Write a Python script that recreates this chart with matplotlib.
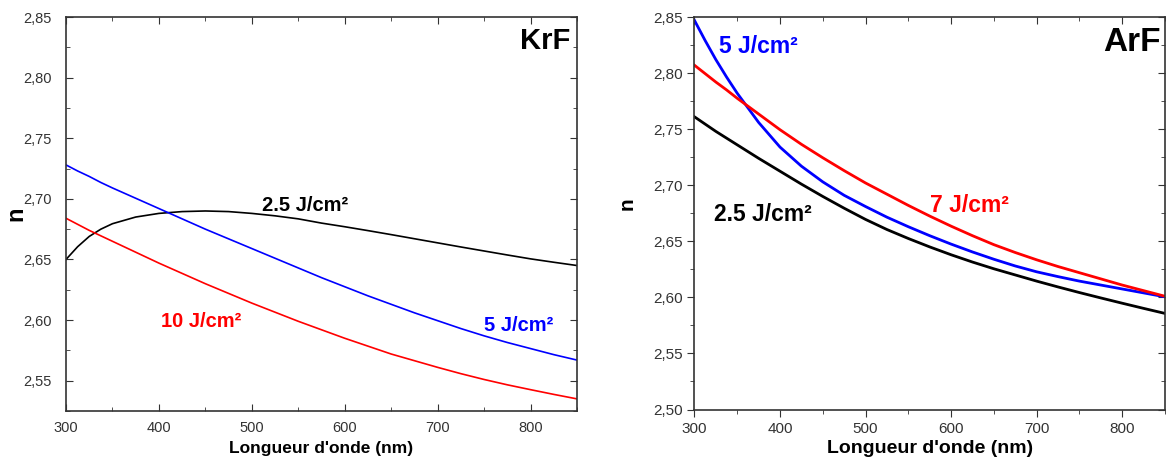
import matplotlib
matplotlib.use('Agg')
import matplotlib.pyplot as plt
from matplotlib.ticker import MultipleLocator, FuncFormatter

plt.rcParams['font.family'] = ['Liberation Sans', 'DejaVu Sans']

# longueur d'onde (nm)
wavelength = [300, 312.5, 325, 337.5, 350, 375, 400, 425, 450, 475, 500, 525, 550, 575,
              600, 625, 650, 675, 700, 725, 750, 775, 800, 825, 850]

# KrF : indice n pour chaque fluence
krf_2_5 = [2.650, 2.6605, 2.669, 2.675, 2.6795, 2.685, 2.688, 2.6895, 2.690, 2.6895, 2.688, 2.686,
           2.6835, 2.680, 2.677, 2.6738, 2.6705, 2.6671, 2.6637, 2.6603, 2.657, 2.6537, 2.6505,
           2.6477, 2.645]
krf_5 = [2.728, 2.723, 2.7185, 2.7135, 2.709, 2.7005, 2.692, 2.6835, 2.675, 2.667, 2.659, 2.651,
         2.643, 2.635, 2.6275, 2.620, 2.613, 2.606, 2.5995, 2.593, 2.587, 2.5815, 2.5765,
         2.5715, 2.567]
krf_10 = [2.684, 2.679, 2.674, 2.6695, 2.665, 2.656, 2.647, 2.6385, 2.630, 2.622, 2.614, 2.6065,
          2.599, 2.592, 2.585, 2.5785, 2.572, 2.5665, 2.561, 2.5558, 2.551, 2.5466, 2.5426,
          2.5387, 2.535]

# ArF
arf_2_5 = [2.761, 2.7545, 2.748, 2.742, 2.736, 2.724, 2.7125, 2.701, 2.690, 2.6795, 2.6695, 2.6605,
           2.6525, 2.645, 2.638, 2.6315, 2.6255, 2.620, 2.6145, 2.6093, 2.6043, 2.5995, 2.5948,
           2.5902, 2.5857]
arf_5 = [2.847, 2.829, 2.812, 2.7965, 2.782, 2.756, 2.734, 2.717, 2.703, 2.691, 2.681, 2.6715,
         2.663, 2.655, 2.6475, 2.6405, 2.634, 2.628, 2.6228, 2.6185, 2.6145, 2.611, 2.6075,
         2.604, 2.6005]
arf_7 = [2.807, 2.7995, 2.792, 2.785, 2.7775, 2.7635, 2.7495, 2.7365, 2.7245, 2.713, 2.702, 2.692,
         2.682, 2.6725, 2.6635, 2.655, 2.647, 2.640, 2.6335, 2.6275, 2.622, 2.6165, 2.611,
         2.606, 2.601]

comma = FuncFormatter(lambda v, pos: f'{v:.2f}'.replace('.', ','))
grey = '#333333'

fig = plt.figure(figsize=(11.66, 4.66), dpi=100)
ax1 = fig.add_axes([0.0566, 0.118, 0.4383, 0.8455])
ax2 = fig.add_axes([0.5956, 0.1212, 0.4035, 0.8423])

# --- KrF ---
ax1.plot(wavelength, krf_2_5, color='black', lw=1.2)
ax1.plot(wavelength, krf_5, color='#0000ff', lw=1.2)
ax1.plot(wavelength, krf_10, color='#ff0000', lw=1.2)
ax1.set_xlim(300, 850)
ax1.set_ylim(2.525, 2.85)
ax1.xaxis.set_major_locator(MultipleLocator(100))
ax1.xaxis.set_minor_locator(MultipleLocator(50))
ax1.yaxis.set_major_locator(MultipleLocator(0.05))
ax1.yaxis.set_minor_locator(MultipleLocator(0.025))
ax1.yaxis.set_major_formatter(comma)
ax1.tick_params(which='both', direction='in', top=True, right=True, color=grey,
                labelcolor=grey, labelsize=10.5)
ax1.tick_params(which='major', length=5)
ax1.tick_params(which='minor', length=3)
ax1.tick_params(axis='y', pad=10)
ax1.tick_params(axis='x', pad=7.5)
ax1.set_xlabel("Longueur d'onde (nm)", fontsize=12.5, fontweight='bold', labelpad=4)
ax1.set_ylabel('n', fontsize=17, fontweight='bold')
ax1.yaxis.set_label_coords(-0.076, 0.5)
ax1.text(789, 2.8237, 'KrF', fontsize=21, fontweight='bold')
ax1.text(511, 2.690, '2.5 J/cm²', fontsize=14.5, fontweight='bold', color='black')
ax1.text(402, 2.594, '10 J/cm²', fontsize=14.5, fontweight='bold', color='#ff0000')
ax1.text(750, 2.591, '5 J/cm²', fontsize=14.5, fontweight='bold', color='#0000ff')

# --- ArF ---
ax2.plot(wavelength, arf_2_5, color='black', lw=2.0)
ax2.plot(wavelength, arf_5, color='#0000ff', lw=2.0)
ax2.plot(wavelength, arf_7, color='#ff0000', lw=2.0)
ax2.set_xlim(300, 850)
ax2.set_ylim(2.50, 2.85)
ax2.xaxis.set_major_locator(MultipleLocator(100))
ax2.xaxis.set_minor_locator(MultipleLocator(50))
ax2.yaxis.set_major_locator(MultipleLocator(0.05))
ax2.yaxis.set_minor_locator(MultipleLocator(0.025))
ax2.yaxis.set_major_formatter(comma)
ax2.tick_params(which='both', direction='out', color=grey, labelcolor=grey, labelsize=11)
ax2.tick_params(which='both', axis='both', top=True, right=True)
ax2.tick_params(which='major', length=5)
ax2.tick_params(which='minor', length=3)
ax2.tick_params(axis='y', pad=3.5)
ax2.tick_params(axis='x', pad=4)
# ticks du haut et de droite vers l'intérieur
for t in ax2.xaxis.get_major_ticks() + ax2.xaxis.get_minor_ticks():
    t.tick2line.set_marker(matplotlib.lines.TICKDOWN)
for t in ax2.yaxis.get_major_ticks() + ax2.yaxis.get_minor_ticks():
    t.tick2line.set_marker(matplotlib.lines.TICKLEFT)
ax2.set_xlabel("Longueur d'onde (nm)", fontsize=14, fontweight='bold', labelpad=3)
ax2.set_ylabel('n', fontsize=15, fontweight='bold')
ax2.yaxis.set_label_coords(-0.122, 0.525)
ax2.text(778, 2.8194, 'ArF', fontsize=24, fontweight='bold')
ax2.text(328.6, 2.8176, '5 J/cm²', fontsize=16.5, fontweight='bold', color='#0000ff')
ax2.text(323, 2.6682, '2.5 J/cm²', fontsize=16.5, fontweight='bold', color='black')
ax2.text(575.6, 2.6762, '7 J/cm²', fontsize=16.5, fontweight='bold', color='#ff0000')

for ax in (ax1, ax2):
    for s in ax.spines.values():
        s.set_color(grey)
        s.set_linewidth(1.2)

fig.savefig('out.png', dpi=100)
